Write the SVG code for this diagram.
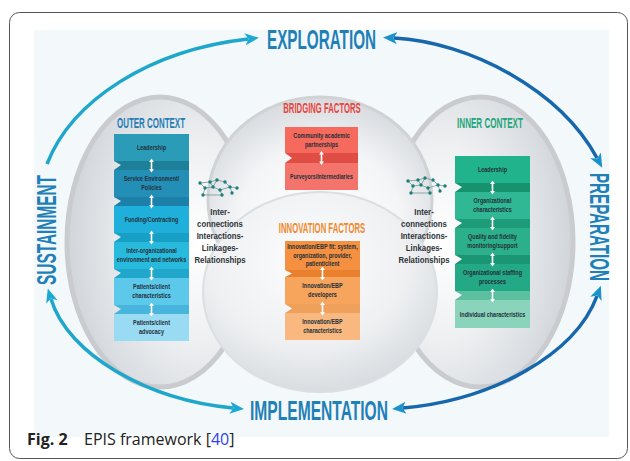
<svg xmlns="http://www.w3.org/2000/svg" xmlns:xlink="http://www.w3.org/1999/xlink" width="630" height="461" viewBox="0 0 630 461">
<style>
.phase{font-family:"Liberation Sans",Arial,sans-serif;font-weight:bold;font-size:28px;fill:#1f80b7}
.hdr{font-family:"Liberation Sans",Arial,sans-serif;font-weight:bold;font-size:14px;text-anchor:middle}
.bx{font-family:"Liberation Sans",Arial,sans-serif;font-weight:bold;font-size:7px;fill:#24303a;text-anchor:middle}
.ic{font-family:"Liberation Sans",Arial,sans-serif;font-weight:bold;font-size:9.4px;fill:#2e3336;text-anchor:middle}
.cap{font-family:"Open Sans","Liberation Sans",sans-serif;font-size:16px;fill:#222}
.arcC{fill:none;stroke:#1fa7cb;stroke-width:3.5}
.arcB{fill:none;stroke:#1767ad;stroke-width:3.5}
.hl{stroke:url(#hl);stroke-width:1.5}
.net line{stroke:#5f8d8c;stroke-width:0.7}
.net circle{fill:#1d7d7a}
</style>
<defs>
<marker id="ahC" viewBox="0 0 14 12" refX="3" refY="6" markerWidth="14" markerHeight="12" markerUnits="userSpaceOnUse" orient="auto-start-reverse"><path d="M0,0 L14,6 L0,12 L3.5,6 Z" fill="#1ba9d1"/></marker>
<marker id="ahB" viewBox="0 0 14 12" refX="3" refY="6" markerWidth="14" markerHeight="12" markerUnits="userSpaceOnUse" orient="auto-start-reverse"><path d="M0,0 L14,6 L0,12 L3.5,6 Z" fill="#1a93cc"/></marker>
<radialGradient id="gL" cx="0.7" cy="0.5" r="0.75"><stop offset="0" stop-color="#ffffff"/><stop offset="0.45" stop-color="#eef0f2"/><stop offset="1" stop-color="#cdd1d6"/></radialGradient>
<radialGradient id="gR" cx="0.3" cy="0.5" r="0.75"><stop offset="0" stop-color="#ffffff"/><stop offset="0.45" stop-color="#eef0f2"/><stop offset="1" stop-color="#cdd1d6"/></radialGradient>
<radialGradient id="gM" cx="0.5" cy="0.6" r="0.6"><stop offset="0" stop-color="#ffffff"/><stop offset="0.6" stop-color="#f3f5f7"/><stop offset="1" stop-color="#d7dade"/></radialGradient>
<radialGradient id="gI" cx="0.45" cy="0.35" r="0.7"><stop offset="0" stop-color="#fdfdfe"/><stop offset="0.6" stop-color="#eef0f2"/><stop offset="1" stop-color="#d4d8dc"/></radialGradient>
<linearGradient id="hl" x1="0" x2="1" y1="0" y2="0"><stop offset="0" stop-color="#c4c8cc" stop-opacity="0"/><stop offset="0.5" stop-color="#c4c8cc"/><stop offset="1" stop-color="#c4c8cc" stop-opacity="0"/></linearGradient>
<path id="dbl" d="M0,-7 L-2.4,-3.4 H-0.8 V3.4 H-2.4 L0,7 L2.4,3.4 H0.8 V-3.4 H2.4 Z" fill="#ffffff"/>
<g id="net" class="net">
<line x1="200" y1="183" x2="210" y2="182"/><line x1="210" y1="182" x2="217" y2="180"/><line x1="200" y1="183" x2="205" y2="188"/><line x1="205" y1="188" x2="213" y2="187"/><line x1="210" y1="182" x2="213" y2="187"/><line x1="205" y1="188" x2="203" y2="195"/><line x1="213" y1="187" x2="220" y2="190"/><line x1="217" y1="180" x2="225" y2="182"/><line x1="225" y1="182" x2="230" y2="187"/><line x1="230" y1="187" x2="237" y2="188"/><line x1="230" y1="187" x2="232" y2="193"/><line x1="220" y1="190" x2="222" y2="195"/><line x1="203" y1="195" x2="222" y2="195"/><line x1="220" y1="190" x2="230" y2="187"/><line x1="217" y1="180" x2="213" y2="187"/>
<circle cx="200" cy="183" r="1.7"/><circle cx="210" cy="182" r="1.7"/><circle cx="217" cy="180" r="1.7"/><circle cx="205" cy="188" r="1.7"/><circle cx="213" cy="187" r="1.7"/><circle cx="203" cy="195" r="1.7"/><circle cx="220" cy="190" r="1.7"/><circle cx="225" cy="182" r="1.7"/><circle cx="230" cy="187" r="1.7"/><circle cx="237" cy="188" r="1.7"/><circle cx="232" cy="193" r="1.7"/><circle cx="222" cy="195" r="1.7"/>
</g>
</defs>

<rect x="9.5" y="12.5" width="618" height="446" rx="10" fill="#ffffff" stroke="#555" stroke-width="1"/>
<rect x="34" y="30" width="575" height="407" fill="#f3f8fb"/>

<g id="shapes">
<ellipse cx="160" cy="242" rx="93" ry="145" fill="url(#gL)" stroke="#c9cbce" stroke-width="5"/>
<ellipse cx="480" cy="242" rx="93" ry="145" fill="url(#gR)" stroke="#c9cbce" stroke-width="5"/>
<ellipse cx="320" cy="200" rx="112" ry="103" fill="url(#gM)" stroke="#d0d3d6" stroke-width="3"/>
<ellipse cx="320" cy="292" rx="117" ry="100" fill="url(#gI)" stroke="#dcdfe2" stroke-width="2"/>
</g>

<g id="connectors">
<path class="arcC" d="M47,164 C72,100 150,50 248,39" marker-end="url(#ahC)"/>
<path class="arcB" d="M394,38 C470,42 560,90 597,158" marker-start="url(#ahB)" marker-end="url(#ahB)"/>
<path class="arcB" d="M597,296 C575,355 492,400 403,408" marker-start="url(#ahB)" marker-end="url(#ahB)"/>
<path class="arcC" d="M51,299 C68,355 148,400 233,408" marker-start="url(#ahC)" marker-end="url(#ahC)"/>
</g>

<g id="exploration"><text class="phase" x="267" y="49" textLength="109" lengthAdjust="spacingAndGlyphs">EXPLORATION</text></g>
<g id="implementation"><text class="phase" x="250" y="420" textLength="138" lengthAdjust="spacingAndGlyphs">IMPLEMENTATION</text></g>
<g id="sustainment"><text class="phase" transform="translate(56,230) rotate(-90)" x="0" y="0" text-anchor="middle" textLength="110" lengthAdjust="spacingAndGlyphs">SUSTAINMENT</text></g>
<g id="preparation"><text class="phase" transform="translate(590,227) rotate(90)" x="0" y="0" text-anchor="middle" textLength="108" lengthAdjust="spacingAndGlyphs">PREPARATION</text></g>

<!-- OUTER CONTEXT -->
<g id="outer-context">
<line class="hl" x1="95" y1="114" x2="208" y2="114"/>
<line class="hl" x1="95" y1="132" x2="208" y2="132"/>
<text class="hdr" transform="matrix(0.568 0 0 1 151 128)" fill="#1f7db5">OUTER CONTEXT</text>
<polygon points="114,161 189,161 189,170 114,170 121,165" fill="#1e7f99"/>
<polygon points="114,197 189,197 189,206 114,206 121,201" fill="#1c80aa"/>
<polygon points="114,233 189,233 189,242 114,242 121,237" fill="#179fc6"/>
<polygon points="114,269 189,269 189,278 114,278 121,273" fill="#21a7cb"/>
<polygon points="114,305 189,305 189,314 114,314 121,309" fill="#48b6dc"/>
</g>
<g id="oc-leadership"><rect x="114" y="134" width="75" height="27" fill="#2b9cb7"/><text class="bx" transform="matrix(0.78 0 0 1 151.5 150)">Leadership</text></g>
<g id="oc-service"><rect x="114" y="170" width="75" height="27" fill="#238fb7"/><text class="bx" transform="matrix(0.78 0 0 1 151.5 0)"><tspan x="0" y="181.5">Service Environment/</tspan><tspan x="0" y="190.5">Policies</tspan></text></g>
<g id="oc-funding"><rect x="114" y="206" width="75" height="27" fill="#1eb0da"/><text class="bx" transform="matrix(0.78 0 0 1 151.5 222)">Funding/Contracting</text></g>
<g id="oc-interorg"><rect x="114" y="242" width="75" height="27" fill="#28badd"/><text class="bx" transform="matrix(0.78 0 0 1 151.5 0)"><tspan x="0" y="253.5">Inter-organizational</tspan><tspan x="0" y="262.5">environment and networks</tspan></text></g>
<g id="oc-patients"><rect x="114" y="278" width="75" height="27" fill="#5cc8ea"/><text class="bx" transform="matrix(0.78 0 0 1 151.5 0)"><tspan x="0" y="289.5">Patients/client</tspan><tspan x="0" y="298.5">characteristics</tspan></text></g>
<g id="oc-advocacy"><rect x="114" y="314" width="75" height="27" fill="#98dbf3"/><text class="bx" transform="matrix(0.78 0 0 1 151.5 0)"><tspan x="0" y="325.5">Patients/client</tspan><tspan x="0" y="334.5">advocacy</tspan></text></g>

<!-- INNER CONTEXT -->
<g id="inner-context">
<line class="hl" x1="435" y1="115" x2="548" y2="115"/>
<line class="hl" x1="435" y1="131" x2="548" y2="131"/>
<text class="hdr" transform="matrix(0.577 0 0 1 490 127.5)" fill="#21a67b">INNER CONTEXT</text>
<polygon points="455,183 530,183 530,192 455,192 462,187" fill="#17926f"/>
<polygon points="455,219 530,219 530,228 455,228 462,223" fill="#1e9c79"/>
<polygon points="455,255 530,255 530,264 455,264 462,259" fill="#1a9675"/>
<polygon points="455,291 530,291 530,300 455,300 462,295" fill="#5cbf9f"/>
</g>
<g id="ic-leadership"><rect x="455" y="156" width="75" height="27" fill="#21b38b"/><text class="bx" transform="matrix(0.78 0 0 1 492.5 172)">Leadership</text></g>
<g id="ic-orgchar"><rect x="455" y="192" width="75" height="27" fill="#2fb893"/><text class="bx" transform="matrix(0.78 0 0 1 492.5 0)"><tspan x="0" y="203.5">Organizational</tspan><tspan x="0" y="212.5">characteristics</tspan></text></g>
<g id="ic-quality"><rect x="455" y="228" width="75" height="27" fill="#2bb08b"/><text class="bx" transform="matrix(0.78 0 0 1 492.5 0)"><tspan x="0" y="239.5">Quality and fidelity</tspan><tspan x="0" y="248.5">monitoring/support</tspan></text></g>
<g id="ic-staffing"><rect x="455" y="264" width="75" height="27" fill="#23a986"/><text class="bx" transform="matrix(0.78 0 0 1 492.5 0)"><tspan x="0" y="275.5">Organizational staffing</tspan><tspan x="0" y="284.5">processes</tspan></text></g>
<g id="ic-individual"><rect x="455" y="300" width="75" height="28" fill="#8ad4bb"/><text class="bx" transform="matrix(0.78 0 0 1 492.5 316.5)">Individual characteristics</text></g>

<!-- BRIDGING FACTORS -->
<g id="bridging-factors">
<line class="hl" x1="262" y1="100" x2="380" y2="100"/>
<line class="hl" x1="262" y1="117" x2="380" y2="117"/>
<text class="hdr" transform="matrix(0.551 0 0 1 322 113)" fill="#e8463e">BRIDGING FACTORS</text>
<polygon points="285,153 358,153 358,163 285,163 292,158" fill="#e04d44"/>
</g>
<g id="bf-community"><rect x="285" y="127" width="73" height="26" fill="#f6695d"/><text class="bx" transform="matrix(0.78 0 0 1 321.5 0)"><tspan x="0" y="138">Community academic</tspan><tspan x="0" y="147">partnerships</tspan></text></g>
<g id="bf-purveyors"><rect x="285" y="163" width="73" height="27" fill="#f4746b"/><text class="bx" transform="matrix(0.75 0 0 1 321.5 179)">Purveyors/Intermediaries</text></g>

<!-- INNOVATION FACTORS -->
<g id="innovation-factors">
<line class="hl" x1="258" y1="218" x2="386" y2="218"/>
<line class="hl" x1="258" y1="237" x2="386" y2="237"/>
<text class="hdr" transform="matrix(0.553 0 0 1 322 233)" fill="#f08a2c">INNOVATION FACTORS</text>
<polygon points="285,270 360,270 360,277 285,277 292,273.5" fill="#e8802e"/>
<polygon points="285,304 360,304 360,313 285,313 292,308.5" fill="#efa05a"/>
</g>
<g id="if-fit"><rect x="285" y="241" width="75" height="29" fill="#f49040"/><text class="bx" transform="matrix(0.78 0 0 1 322.5 0)"><tspan x="0" y="249.5">Innovation/EBP fit: system,</tspan><tspan x="0" y="258">organization, provider,</tspan><tspan x="0" y="266.5">patient/client</tspan></text></g>
<g id="if-developers"><rect x="285" y="277" width="75" height="27" fill="#f7a45c"/><text class="bx" transform="matrix(0.78 0 0 1 322.5 0)"><tspan x="0" y="288.5">Innovation/EBP</tspan><tspan x="0" y="297.5">developers</tspan></text></g>
<g id="if-characteristics"><rect x="285" y="313" width="75" height="27" fill="#f9b87f"/><text class="bx" transform="matrix(0.78 0 0 1 322.5 0)"><tspan x="0" y="324.5">Innovation/EBP</tspan><tspan x="0" y="333.5">characteristics</tspan></text></g>

<g id="box-links">
<use href="#dbl" x="151.5" y="165.5"/><use href="#dbl" x="151.5" y="201.5"/><use href="#dbl" x="151.5" y="237.5"/><use href="#dbl" x="151.5" y="273.5"/><use href="#dbl" x="151.5" y="309.5"/>
<use href="#dbl" x="492.5" y="187.5"/><use href="#dbl" x="492.5" y="223.5"/><use href="#dbl" x="492.5" y="259.5"/><use href="#dbl" x="492.5" y="295.5"/>
<use href="#dbl" x="321.5" y="158"/>
<use href="#dbl" x="322.5" y="273.5"/><use href="#dbl" x="322.5" y="308.5"/>
</g>

<g id="interconnections-left">
<use href="#net"/>
<text class="ic" transform="matrix(0.83 0 0 1 220 0)"><tspan x="0" y="215">Inter-</tspan><tspan x="0" y="227">connections</tspan><tspan x="0" y="239">Interactions-</tspan><tspan x="0" y="251">Linkages-</tspan><tspan x="0" y="263">Relationships</tspan></text>
</g>
<g id="interconnections-right">
<use href="#net" transform="translate(208,-2)"/>
<text class="ic" transform="matrix(0.83 0 0 1 424 0)"><tspan x="0" y="215">Inter-</tspan><tspan x="0" y="227">connections</tspan><tspan x="0" y="239">Interactions-</tspan><tspan x="0" y="251">Linkages-</tspan><tspan x="0" y="263">Relationships</tspan></text>
</g>

<g id="caption">
<text class="cap" x="27" y="445" font-weight="bold">Fig. 2</text>
<text class="cap" x="84" y="445">EPIS framework [<tspan fill="#2b3ff0">40</tspan>]</text>
</g>
</svg>
